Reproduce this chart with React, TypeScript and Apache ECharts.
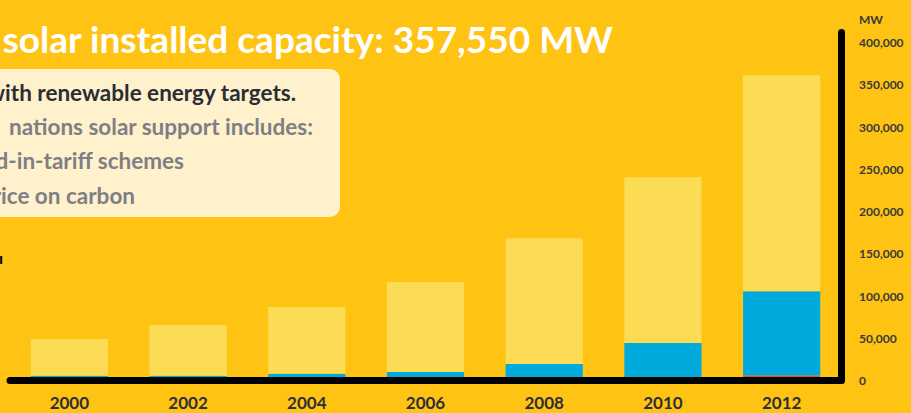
import React, { useEffect, useRef } from "react";
import * as echarts from "echarts";

const years = ["2000", "2002", "2004", "2006", "2008", "2010", "2012"];
const csp = [500, 500, 1000, 1000, 1500, 4000, 6000];
const pv = [5200, 5200, 7000, 9000, 18000, 40300, 99800];
const thermal = [43400, 59900, 78900, 106500, 149000, 196300, 255500];
const yTicks = [0, 50000, 100000, 150000, 200000, 250000, 300000, 350000, 400000];

const titleText = "Global solar installed capacity: 357,550 MW";
const boxLines = [
  "with renewable energy targets.",
  "nations solar support includes:",
  "d-in-tariff schemes",
  "rice on carbon",
];

const BG = "#FFC313";
const FONT = "Lato";

export default function App() {
  const ref = useRef<HTMLDivElement>(null);
  useEffect(() => {
    if (!ref.current) return;
    const chart = echarts.init(ref.current, undefined, { renderer: "svg" });
    const fmt = (v: number) =>
      yTicks.includes(v) ? v.toLocaleString("en-US") : "";
    const boxText = (i: number, x: number, y: number, fill: string) => ({
      type: "text",
      x,
      y,
      style: {
        text: boxLines[i],
        fill,
        font: `bold 22.5px ${FONT}`,
        textAlign: "right",
        textVerticalAlign: "middle",
      },
    });
    chart.setOption({
      animation: false,
      backgroundColor: BG,
      grid: { left: 10, right: 70, top: 32.5, bottom: 32.5 },
      xAxis: {
        type: "category",
        data: years,
        z: 10,
        axisLine: {
          show: true,
          lineStyle: { color: "#000", width: 7, cap: "round" },
        },
        axisTick: { show: false },
        axisLabel: {
          margin: 13,
          color: "#2D2F36",
          fontFamily: FONT,
          fontWeight: "bold",
          fontSize: 17,
        },
      },
      yAxis: {
        type: "value",
        position: "right",
        min: 0,
        max: 412000,
        interval: 50000,
        z: 10,
        splitLine: { show: false },
        axisTick: { show: false },
        axisLine: {
          show: true,
          lineStyle: { color: "#000", width: 7, cap: "round" },
        },
        axisLabel: {
          margin: 18,
          showMaxLabel: false,
          color: "#3A3A3A",
          fontFamily: FONT,
          fontWeight: "bold",
          fontSize: 12,
          formatter: fmt,
        },
      },
      series: [
        {
          name: "CSP",
          type: "bar",
          stack: "s",
          data: csp,
          barWidth: "65%",
          itemStyle: { color: "#E8503A" },
        },
        {
          name: "PV",
          type: "bar",
          stack: "s",
          data: pv,
          itemStyle: { color: "#00AADD" },
        },
        {
          name: "Thermal",
          type: "bar",
          stack: "s",
          data: thermal,
          itemStyle: { color: "#FDDC55" },
        },
      ],
      graphic: [
        {
          type: "text",
          x: 613,
          y: 38,
          style: {
            text: titleText,
            fill: "#FFFFFF",
            font: `bold 37px ${FONT}`,
            textAlign: "right",
            textVerticalAlign: "middle",
          },
        },
        {
          type: "rect",
          shape: { x: -30, y: 69, width: 370, height: 148, r: 10 },
          style: { fill: "#FFF1CC" },
        },
        boxText(0, 296, 92, "#2B2D35"),
        boxText(1, 313, 126, "#7E7F84"),
        boxText(2, 184, 160, "#7E7F84"),
        boxText(3, 135, 195, "#7E7F84"),
        {
          type: "text",
          x: 3,
          y: 257,
          style: {
            text: "u",
            fill: "#000",
            font: `bold 16px ${FONT}`,
            textAlign: "right",
            textVerticalAlign: "middle",
          },
        },
        {
          type: "text",
          x: 859,
          y: 19,
          style: {
            text: "MW",
            fill: "#3A3A3A",
            font: `bold 12px ${FONT}`,
            textAlign: "left",
            textVerticalAlign: "middle",
          },
        },
      ],
    });
    return () => chart.dispose();
  }, []);
  return (
    <div
      ref={ref}
      style={{ position: "fixed", left: 0, top: 0, width: 911, height: 413 }}
    />
  );
}
